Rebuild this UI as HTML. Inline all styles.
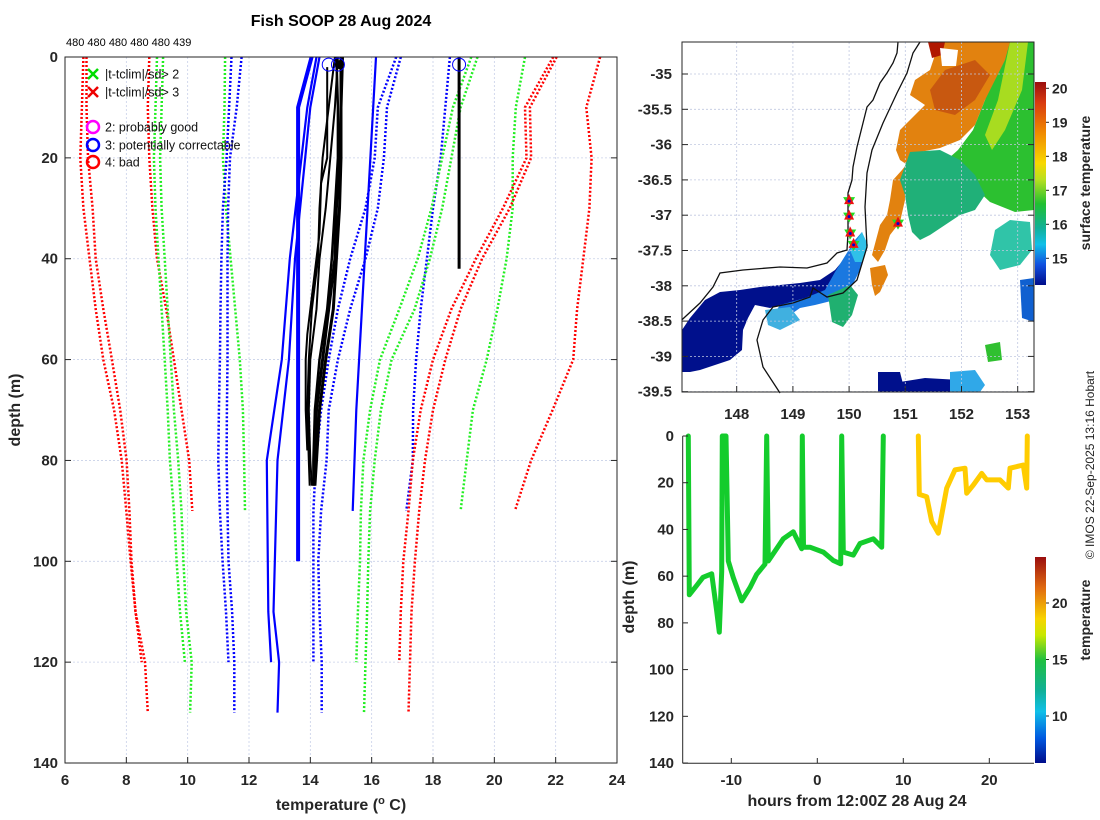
<!DOCTYPE html>
<html><head><meta charset="utf-8">
<style>
html,body{margin:0;padding:0;background:#fff;}
svg{display:block;font-family:"Liberation Sans",sans-serif;}
.tk{font-size:15px;font-weight:bold;fill:#262626;}
.lg{font-size:12.5px;fill:#111;}
</style></head>
<body>
<svg id="chart" width="1100" height="820" viewBox="0 0 1100 820" xmlns="http://www.w3.org/2000/svg">
<defs>
<linearGradient id="cbMap" x1="0" y1="0" x2="0" y2="1">
<stop offset="0" stop-color="#9a0e0e"/><stop offset="0.1" stop-color="#d83a10"/><stop offset="0.25" stop-color="#f08a00"/><stop offset="0.4" stop-color="#f8d800"/><stop offset="0.48" stop-color="#b8e020"/><stop offset="0.6" stop-color="#20c030"/><stop offset="0.72" stop-color="#10b098"/><stop offset="0.8" stop-color="#10c0e8"/><stop offset="0.9" stop-color="#1050e0"/><stop offset="1" stop-color="#000c8a"/>
</linearGradient>
<linearGradient id="cbBot" x1="0" y1="0" x2="0" y2="1">
<stop offset="0" stop-color="#9a0e0e"/><stop offset="0.15" stop-color="#e06a10"/><stop offset="0.3" stop-color="#f8d400"/><stop offset="0.38" stop-color="#c8e800"/><stop offset="0.5" stop-color="#20c040"/><stop offset="0.65" stop-color="#10b098"/><stop offset="0.75" stop-color="#10c0e8"/><stop offset="0.88" stop-color="#0058e0"/><stop offset="1" stop-color="#000c8a"/>
</linearGradient>
</defs>
<text x="341" y="26" text-anchor="middle" style="font-size:16px;font-weight:bold">Fish SOOP 28 Aug 2024</text>
<text x="66" y="46" style="font-size:11px">480 480 480 480 480 439</text>
<g id="left"></g>
<g id="map"></g>
<g id="bot"></g>
<text transform="translate(20,410) rotate(-90)" text-anchor="middle" style="font-size:16px;font-weight:bold;fill:#262626">depth (m)</text>
<text x="341" y="810" text-anchor="middle" style="font-size:16px;font-weight:bold;fill:#262626">temperature (<tspan dy="-6" style="font-size:11px">o</tspan><tspan dy="6"> C)</tspan></text>
<text transform="translate(634,597) rotate(-90)" text-anchor="middle" style="font-size:16px;font-weight:bold;fill:#262626">depth (m)</text>
<text x="857" y="806" text-anchor="middle" style="font-size:16px;font-weight:bold;fill:#262626">hours from 12:00Z 28 Aug 24</text>
<text transform="translate(1090,183) rotate(-90)" text-anchor="middle" style="font-size:14px;font-weight:bold;fill:#262626">surface temperature</text>
<text transform="translate(1090,620) rotate(-90)" text-anchor="middle" style="font-size:14px;font-weight:bold;fill:#262626">temperature</text>
<text transform="translate(1094,465) rotate(-90)" text-anchor="middle" style="font-size:12px;fill:#222">© IMOS 22-Sep-2025 13:16 Hobart</text>
</svg>
<script>
// ---------- LEFT PANEL DATA ----------
const depthFull = [0,10,20,30,40,50,60,70,80,90,100,110,120,130];
const depth120 = [0,10,20,30,40,50,60,70,80,90,100,110,120];
const depth90 = [0,10,20,30,40,50,60,70,80,90];
const redL1 = [6.7,6.7,6.75,6.9,7.0,7.25,7.53,7.8,8.01,8.1,8.17,8.3,8.61,8.7];
const redL2 = [6.6,6.55,6.5,6.6,6.8,7.0,7.25,7.6,7.85,8.0,8.14,8.3,8.5];
const redL3 = [8.75,8.7,8.75,8.85,9.0,9.3,9.55,9.8,10.05,10.15];
const greenL1 = [9.2,9.15,9.1,9.15,9.25,9.35,9.45,9.55,9.69,9.8,9.86,9.95,10.13,10.08];
const greenL2 = [9.0,8.95,8.9,8.95,9.05,9.15,9.25,9.35,9.42,9.55,9.64,9.75,9.91];
const greenL3 = [11.22,11.2,11.15,11.25,11.4,11.55,11.7,11.8,11.84,11.87];
const blueL1 = [11.76,11.6,11.38,11.32,11.3,11.3,11.3,11.28,11.27,11.3,11.33,11.45,11.52,11.52];
const blueL2 = [11.43,11.35,11.27,11.15,11.1,11.07,11.05,11.02,11.0,11.05,11.14,11.25,11.33];
const blueR1 = [16.95,16.5,16.4,16.2,15.8,15.3,14.9,14.6,14.53,14.35,14.26,14.3,14.37,14.37];
const blueR2 = [16.8,16.2,16.1,15.8,15.3,14.9,14.6,14.35,14.18,14.1,14.1,14.1,14.1];
const blueR3 = [18.55,18.4,18.25,18.0,17.8,17.6,17.45,17.35,17.34,17.13];
const greenR1 = [19.45,18.9,18.6,18.3,17.9,17.4,16.65,16.3,16.1,15.95,15.89,15.85,15.8,15.75];
const greenR2 = [19.25,18.65,18.3,17.95,17.5,16.9,16.27,15.95,15.73,15.65,15.62,15.55,15.5];
const greenR3 = [21.0,20.7,20.6,20.6,20.4,20.1,19.75,19.3,19.1,18.9];
const redR1 = [22.03,21.16,21.2,20.5,19.6,18.9,18.4,18.0,17.74,17.55,17.41,17.3,17.25,17.2];
const redR2 = [21.92,21.0,21.05,20.28,19.4,18.6,18.0,17.6,17.34,17.2,17.03,16.95,16.9];
const redR3 = [23.45,23.0,23.17,23.1,22.9,22.7,22.57,21.9,21.2,20.67];
// solid flagged profiles
const blueS1Depth = [0,10,40,60,80,110,120];
const blueS1Temp = [14.2,13.9,13.33,13.07,12.58,12.63,12.72];
const blueS2Depth = [0,10,40,60,80,110,120,130];
const blueS2Temp = [14.3,14.0,13.5,13.3,12.93,12.8,12.98,12.93];
const blueS3Depth = [0,70,90];
const blueS3Temp = [16.14,15.5,15.38];
const blueThickDepth = [0,10,100];
const blueThickTemp = [14.04,13.6,13.6];
// black observed profiles
const blkDepth = [0,10,20,30,40,50,60,70,80,85];
const blk1 = [15.0,15.0,15.0,14.95,14.85,14.75,14.5,14.3,14.2,14.15];
const blk2 = [14.85,14.9,14.9,14.8,14.7,14.55,14.3,14.15,14.1,14.1];
const blk3 = [14.9,14.8,14.65,14.5,14.3,14.2,14.0,13.95,14.0,14.05];
const blk4 = [14.8,14.6,14.4,14.3,14.25,14.05,13.95,13.9,13.95,13.98];
const blk5 = [15.05,15.0,14.95,14.85,14.8,14.6,14.4,14.2,14.15,14.12];
const blk6Depth = [2,20,25,35,45,55,60,70,78];
const blk6 = [14.55,14.55,14.35,14.3,14.1,13.9,13.85,13.85,13.9];
const blk7Depth = [0,42];
const blk7 = [18.85,18.85];
const flagTemps = [14.6,14.9,18.85];
const xTicksL = [6,8,10,12,14,16,18,20,22,24];
const yTicksL = [0,20,40,60,80,100,120,140];

// ---------- BOTTOM PANEL DATA ----------
const greenHours = [-15.0,-14.88,-14.02,-13.29,-12.28,-11.70,-11.40,-11.12,-11.05,-10.62,-10.35,-9.77,-8.79,-7.83,-7.05,-6.08,-5.88,-5.70,-3.95,-2.79,-1.81,-1.74,-1.60,-0.85,0.70,1.86,2.72,2.84,3.02,4.19,4.97,6.51,7.49,7.67];
const greenDepths = [0,68,64,60.5,59,75,84,58,0,0,53.5,60.6,70.6,64.9,59.2,54.9,0,53.5,44,41,48.3,0,47.6,47.6,49.7,53.3,54.7,0,49.7,51,46,44,47.6,0];
const yellowHours = [11.74,11.86,12.72,13.3,14.07,15.05,16.01,17.17,17.37,18.14,19.12,19.70,21.24,22.21,22.41,23.95,24.35,24.42];
const yellowDepths = [0,25,26,36.6,41.6,22.3,14.5,13.8,24.5,21,16,18.8,18.8,22.3,13.8,12.4,22.3,0];
const xTicksB = [-10,0,10,20];
const yTicksB = [0,20,40,60,80,100,120,140];
const cbBotTicks = [10,15,20];

// ---------- MAP DATA ----------
const lonTicks = [148,149,150,151,152,153];
const latTicks = [-35,-35.5,-36,-36.5,-37,-37.5,-38,-38.5,-39,-39.5];
const cbMapTicks = [15,16,17,18,19,20];
const stnLon = [150.0,150.0,150.02,150.08,150.87];
const stnLat = [-36.8,-37.02,-37.26,-37.42,-37.12];

const NS='http://www.w3.org/2000/svg';
function mk(tag, attrs, parent){const e=document.createElementNS(NS,tag);for(const k in attrs)e.setAttribute(k,attrs[k]);parent.appendChild(e);return e;}

// ---------- LEFT PANEL ----------
const L=document.getElementById('left');
const xT=t=>65+(t-6)*30.667, yD=d=>57+d*5.043;
xTicksL.forEach(t=>{const g=mk('line',{x1:xT(t),x2:xT(t),y1:57,y2:763,stroke:'#c8d0e8','stroke-width':0.8,'stroke-dasharray':'2 2'},L);

});
yTicksL.forEach(d=>{const g=mk('line',{x1:65,x2:617,y1:yD(d),y2:yD(d),stroke:'#c8d0e8','stroke-width':0.8,'stroke-dasharray':'2 2'},L);

});
function series(depths,temps,color,dotted,w,name){
  const pts=temps.map((t,i)=>xT(t).toFixed(1)+','+yD(depths[i]).toFixed(1)).join(' ');
  const p=mk('polyline',{points:pts,fill:'none',stroke:color,'stroke-width':w,'stroke-linejoin':'round'},L);
  if(dotted)p.setAttribute('stroke-dasharray','2 2');
  
  
}
series(depthFull,redL1,'#ff0000',1,2.5,'clim-red-left-1');
series(depth120,redL2,'#ff0000',1,2.5,'clim-red-left-2');
series(depth90,redL3,'#ff0000',1,2.5,'clim-red-left-3');
series(depthFull,greenL1,'#22ee22',1,2.5,'clim-green-left-1');
series(depth120,greenL2,'#22ee22',1,2.5,'clim-green-left-2');
series(depth90,greenL3,'#22ee22',1,2.5,'clim-green-left-3');
series(depthFull,blueL1,'#0000ff',1,2.5,'clim-blue-left-1');
series(depth120,blueL2,'#0000ff',1,2.5,'clim-blue-left-2');
series(depthFull,blueR1,'#0000ff',1,2.5,'clim-blue-right-1');
series(depth120,blueR2,'#0000ff',1,2.5,'clim-blue-right-2');
series(depth90,blueR3,'#0000ff',1,2.5,'clim-blue-right-3');
series(depthFull,greenR1,'#22ee22',1,2.5,'clim-green-right-1');
series(depth120,greenR2,'#22ee22',1,2.5,'clim-green-right-2');
series(depth90,greenR3,'#22ee22',1,2.5,'clim-green-right-3');
series(depthFull,redR1,'#ff0000',1,2.5,'clim-red-right-1');
series(depth120,redR2,'#ff0000',1,2.5,'clim-red-right-2');
series(depth90,redR3,'#ff0000',1,2.5,'clim-red-right-3');
series(blueS1Depth,blueS1Temp,'#0000ff',0,2.2,'flagged-profile-1');
series(blueS2Depth,blueS2Temp,'#0000ff',0,2.2,'flagged-profile-2');
series(blueS3Depth,blueS3Temp,'#0000ff',0,2.2,'flagged-profile-3');
series(blueThickDepth,blueThickTemp,'#0000ff',0,4,'flagged-profile-thick');
series(blkDepth,blk1,'#000',0,3,'profile-1');
series(blkDepth,blk2,'#000',0,2.5,'profile-2');
series(blkDepth,blk3,'#000',0,2,'profile-3');
series(blkDepth,blk4,'#000',0,2,'profile-4');
series(blkDepth,blk5,'#000',0,3,'profile-5');
series(blk6Depth,blk6,'#000',0,2,'profile-6');
series(blk7Depth,blk7,'#000',0,3,'profile-7');
flagTemps.forEach(t=>{const c=mk('circle',{cx:xT(t),cy:yD(1.5),r:6.5,fill:'none',stroke:'#0000ff','stroke-width':1},L);

});
const dot=mk('circle',{cx:xT(14.95),cy:yD(1.5),r:4.5,fill:'#000'},L);


const fr=mk('rect',{x:65,y:57,width:552,height:706,fill:'none',stroke:'#262626','stroke-width':1},L);


xTicksL.forEach(t=>{mk('line',{x1:xT(t),x2:xT(t),y1:763,y2:757,stroke:'#262626'},L);
const tx=mk('text',{x:xT(t),y:785,'text-anchor':'middle',class:'tk'},L);tx.textContent=t;

});
yTicksL.forEach(d=>{mk('line',{x1:65,x2:71,y1:yD(d),y2:yD(d),stroke:'#262626'},L);mk('line',{x1:611,x2:617,y1:yD(d),y2:yD(d),stroke:'#262626'},L);
const tx=mk('text',{x:58,y:yD(d)+5,'text-anchor':'end',class:'tk'},L);tx.textContent=d;

});
// legend
const legendItems=[['x','#00dd00',74,'|t-tclim|/sd> 2'],['x','#ee0000',92,'|t-tclim|/sd> 3'],['o','#ff00ff',127,'2: probably good'],['o','#0000ff',145,'3: potentially correctable'],['o','#ff0000',162,'4: bad']];
legendItems.forEach(it=>{
  const g=mk('g',{},L);
  
  
  if(it[0]==='x'){mk('path',{d:`M88 ${it[2]-5}l10 10M98 ${it[2]-5}l-10 10`,stroke:it[1],'stroke-width':2.5},g);}
  else mk('circle',{cx:93,cy:it[2],r:6,fill:'none',stroke:it[1],'stroke-width':2.5},g);
  const t=mk('text',{x:105,y:it[2]+4.5,class:'lg'},g);t.textContent=it[3];
});

// ---------- MAP ----------
const M=document.getElementById('map');
const xLon=lon=>736.7+(lon-148)*56.2, yLat=lat=>74+(-35-lat)*70.6;
const blobs=[
 ['#2cc030','985,42 1034,42 1034,210 1015,212 990,202 975,188 958,172 940,166 958,150 973,130 985,100 995,70'],
 ['#a8dc20','1010,42 1028,42 1022,90 1005,130 992,150 985,135 998,100'],
 ['#e2820f','928,42 1010,42 1005,60 995,80 985,100 975,125 960,140 940,148 920,152 910,160 902,170 893,180 890,200 887,215 880,225 876,240 872,255 878,262 885,250 890,235 900,222 905,200 905,185 915,170 900,160 896,150 900,130 915,115 925,105 910,95 915,80 930,70 935,55'],
 ['#c85810','945,70 975,60 990,75 975,100 955,115 935,110 930,90'],
 ['#b01800','928,42 945,42 942,55 932,58'],
 ['#ffffff','940,48 958,50 956,66 942,66'],
 ['#20b078','910,152 940,150 960,160 975,175 985,195 975,210 960,215 945,225 930,235 920,240 912,232 908,215 905,195 900,180'],
 ['#30c4a8','995,230 1010,220 1030,222 1032,250 1020,265 1000,270 990,255'],
 ['#00108c','682,330 690,318 705,300 720,292 740,290 760,287 780,285 800,283 820,280 835,270 845,258 850,250 858,245 860,258 852,275 835,290 810,300 780,305 770,308 755,305 748,318 743,330 742,350 730,360 715,365 700,370 690,372 682,372'],
 ['#1a78e0','835,272 845,256 855,240 862,232 866,245 860,270 850,290 835,300 815,305 800,308 790,315 780,325 770,320 780,305 805,298 825,290'],
 ['#30c0e8','850,250 862,232 868,245 862,262 855,262'],
 ['#20b070','828,295 850,285 858,295 852,315 843,327 832,322'],
 ['#e2820f','870,268 885,265 888,275 880,292 875,296 872,285'],
 ['#00108c','878,372 900,372 905,392 878,392'],
 ['#00108c','900,382 925,378 960,380 955,392 900,392'],
 ['#30a8e8','950,372 975,370 985,385 980,392 950,392'],
 ['#1060d0','1020,280 1034,278 1034,322 1022,318'],
 ['#30c030','985,345 1000,342 1002,360 988,362'],
 ['#40b0e0','765,310 790,307 800,320 780,330 768,325']
];
blobs.forEach(b=>{const p=mk('polygon',{points:b[1],fill:b[0]},M);

});
lonTicks.forEach(l=>{const g=mk('line',{x1:xLon(l),x2:xLon(l),y1:42,y2:392,stroke:'#c0c8e0','stroke-width':0.8,'stroke-dasharray':'2 2'},M);

});
latTicks.forEach(l=>{const g=mk('line',{x1:682,x2:1034,y1:yLat(l),y2:yLat(l),stroke:'#c0c8e0','stroke-width':0.8,'stroke-dasharray':'2 2'},M);

});
const coast=mk('polyline',{points:'681.7,320 700,303 713,287 720,273 743,270 780,267 807,268 827,263 837,253 847,250 848,233 848,213 848,193 852,180 853,167 857,147 862,127 867,107 873,100 880,83 887,73 893,63 897,53 898,42',fill:'none',stroke:'#111','stroke-width':1.3},M);


const iso=mk('polyline',{points:'780,393 763,367 757,340 763,320 773,307 793,303 810,297 813,288 827,297 843,293 857,280 867,247 865,207 867,173 872,150 883,123 897,93 907,73 913,53 920,42',fill:'none',stroke:'#111','stroke-width':1.3},M);


stnLon.forEach((lon,i)=>{const x=xLon(lon),y=yLat(stnLat[i]);
const g=mk('g',{},M);


mk('polygon',{points:`${x-6},${y-4} ${x+6},${y-4} ${x},${y+6}`,fill:'#22dd22'},g);
mk('polygon',{points:`${x-5},${y+3} ${x+5},${y+3} ${x},${y-7}`,fill:'#ee1111'},g);
mk('circle',{cx:x,cy:y,r:1.5,fill:'#0000cc'},g);});
const mf=mk('rect',{x:682,y:42,width:352,height:350,fill:'none',stroke:'#262626','stroke-width':1},M);


lonTicks.forEach(l=>{mk('line',{x1:xLon(l),x2:xLon(l),y1:392,y2:386,stroke:'#262626'},M);
const t=mk('text',{x:xLon(l),y:419,'text-anchor':'middle',class:'tk'},M);t.textContent=l;

});
latTicks.forEach(l=>{mk('line',{x1:682,x2:688,y1:yLat(l),y2:yLat(l),stroke:'#262626'},M);mk('line',{x1:1028,x2:1034,y1:yLat(l),y2:yLat(l),stroke:'#262626'},M);
const t=mk('text',{x:672,y:yLat(l)+5,'text-anchor':'end',class:'tk'},M);t.textContent=l;

});
const cbm=mk('rect',{x:1035,y:82,width:11,height:203,fill:'url(#cbMap)'},M);


const cbY=v=>88.3+(20-v)*34;
cbMapTicks.forEach(v=>{mk('line',{x1:1046,x2:1049,y1:cbY(v),y2:cbY(v),stroke:'#262626'},M);
const t=mk('text',{x:1052,y:cbY(v)+5,class:'tk',style:'font-size:14px'},M);t.textContent=v;

});

// ---------- BOTTOM PANEL ----------
const B=document.getElementById('bot');
const xH=h=>817.3+h*8.6, yB=d=>436+d*2.336;
function track(hours,depths,color,name){
  const p=mk('polyline',{points:hours.map((h,i)=>xH(h).toFixed(1)+','+yB(depths[i]).toFixed(1)).join(' '),fill:'none',stroke:color,'stroke-width':5,'stroke-linejoin':'round','stroke-linecap':'round'},B);
  
  
}
track(greenHours,greenDepths,'#14cc2c','track-green');
track(yellowHours,yellowDepths,'#ffcc00','track-yellow');
mk('line',{x1:682.7,x2:682.7,y1:436,y2:763.3,stroke:'#262626'},B);
mk('line',{x1:682.7,x2:1034,y1:763.3,y2:763.3,stroke:'#262626'},B);
xTicksB.forEach(h=>{mk('line',{x1:xH(h),x2:xH(h),y1:763,y2:758,stroke:'#262626'},B);
const t=mk('text',{x:xH(h),y:785,'text-anchor':'middle',class:'tk'},B);t.textContent=h;

});
yTicksB.forEach(d=>{mk('line',{x1:682.7,x2:688,y1:yB(d),y2:yB(d),stroke:'#262626'},B);
const t=mk('text',{x:674,y:yB(d)+5,'text-anchor':'end',class:'tk'},B);t.textContent=d;

});
const cbb=mk('rect',{x:1035,y:557,width:11,height:206,fill:'url(#cbBot)'},B);


const cbYB=v=>603+(20-v)*11.3;
cbBotTicks.forEach(v=>{mk('line',{x1:1046,x2:1049,y1:cbYB(v),y2:cbYB(v),stroke:'#262626'},B);
const t=mk('text',{x:1052,y:cbYB(v)+5,class:'tk',style:'font-size:14px'},B);t.textContent=v;

});
</script>
</body></html>
